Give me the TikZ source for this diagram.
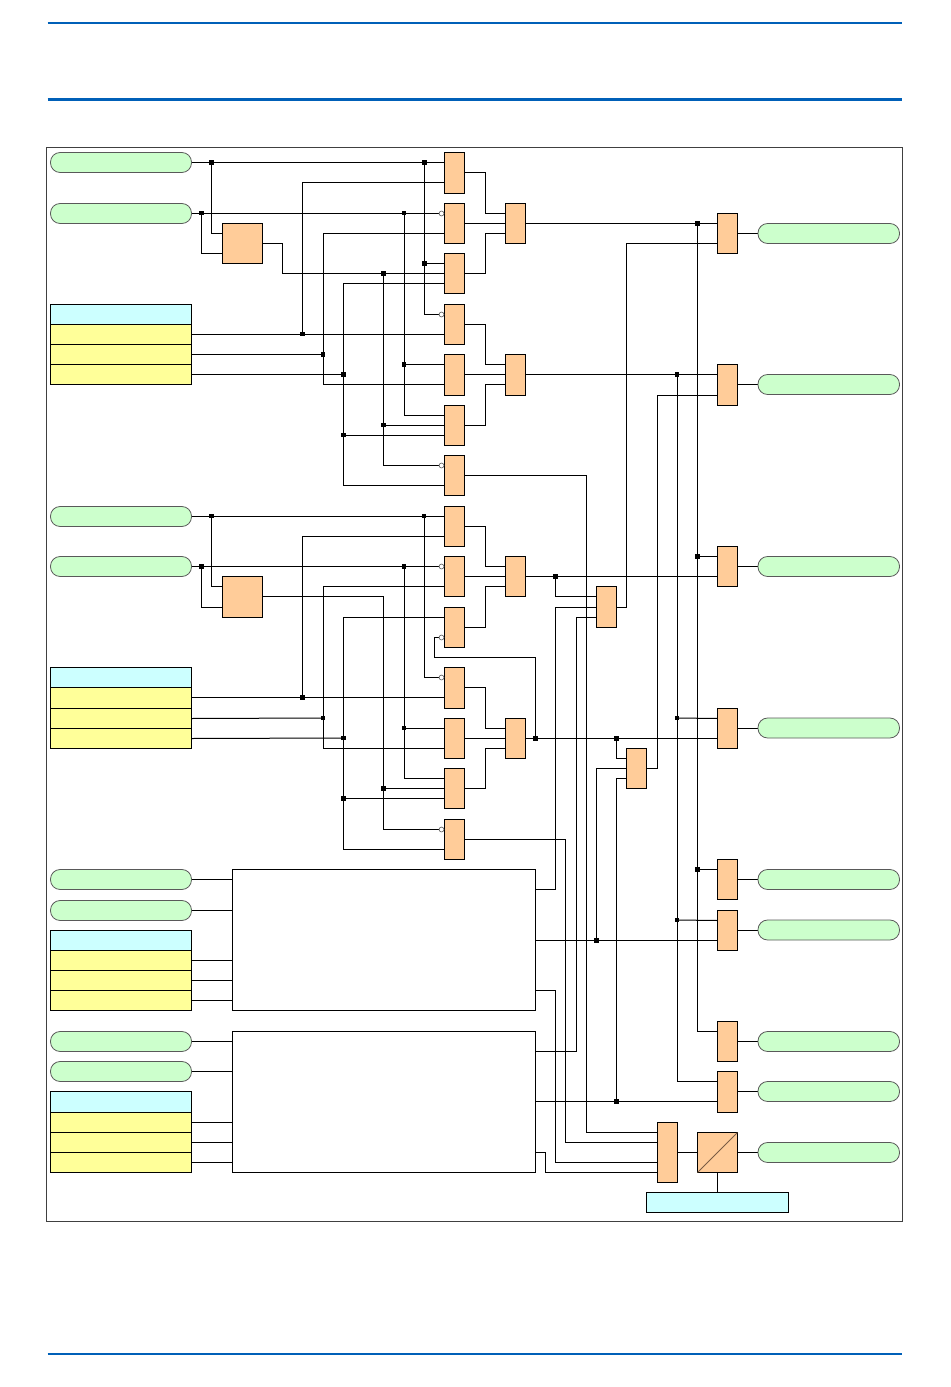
\documentclass[tikz,border=0pt]{standalone}
\usetikzlibrary{backgrounds}
\definecolor{rule}{HTML}{0060B8}
\definecolor{gateor}{HTML}{FFCC99}
\definecolor{pillg}{HTML}{CCFFCC}
\definecolor{tabh}{HTML}{CCFFFF}
\definecolor{taby}{HTML}{FFFF99}
\definecolor{diag}{HTML}{7A5C44}
\tikzset{
  boxb/.style={draw=black,line width=0.75pt,inner sep=0pt,outer sep=0pt},
  gate/.style={boxb,fill=gateor},
  thead/.style={boxb,fill=tabh},
  trow/.style={boxb,fill=taby},
  blk/.style={boxb,fill=white},
  pillb/.style={draw=black!65,line width=0.6pt,fill=pillg,rounded corners=7.2pt,inner sep=0pt,outer sep=0pt},
  wire/.style={draw=black,line width=0.75pt},
  jun/.style={fill=black,draw=none,inner sep=0pt,outer sep=0pt,minimum size=3.4pt},
  bub/.style={circle,draw=black!60,fill=white,line width=0.5pt,inner sep=0pt,outer sep=0pt,minimum size=3.7pt},
}
% box by pixel corners
\newcommand{\bx}[6]{%
  \pgfmathsetmacro{\cxv}{(#3+#5)/2}\pgfmathsetmacro{\cyv}{(#4+#6)/2}%
  \pgfmathsetmacro{\wv}{(#5-#3)*0.75}\pgfmathsetmacro{\hv}{(#6-#4)*0.75}%
  \node[#1,minimum width=\wv pt,minimum height=\hv pt] (#2) at (\cxv,\cyv) {};}
\newcommand{\jn}[3]{\node[jun] (#1) at (#2,#3) {};}
\newcommand{\bb}[2]{\node[bub] (#1) at (441.5,#2) {};}
\begin{document}
\begin{tikzpicture}[x=0.75pt,y=-0.75pt]
\useasboundingbox (0,0) rectangle (950,1387);
\coordinate (ra) at (47.5,23); \coordinate (rb) at (902,23);
\coordinate (rc) at (47.5,99.5); \coordinate (rd) at (902,99.5);
\coordinate (re) at (47.5,1354); \coordinate (rf) at (902,1354);
\draw[rule,line width=1.5pt] (ra) -- (rb);
\draw[rule,line width=2.25pt] (rc) -- (rd);
\draw[rule,line width=1.5pt] (re) -- (rf);
\node[draw=black!75,line width=0.75pt,inner sep=0pt,outer sep=0pt,minimum width=642pt,minimum height=805.5pt] (frame) at (474.5,684.5) {};
% left pills
\bx{pillb}{p1}{50.5}{152.5}{191.5}{172.5}
\bx{pillb}{p2}{50.5}{203.5}{191.5}{223.5}
\bx{pillb}{p3}{50.5}{506.5}{191.5}{526.5}
\bx{pillb}{p4}{50.5}{556.5}{191.5}{576.5}
\bx{pillb}{p5}{50.5}{869.5}{191.5}{889.5}
\bx{pillb}{p6}{50.5}{900.5}{191.5}{920.5}
\bx{pillb}{p7}{50.5}{1031.5}{191.5}{1051.5}
\bx{pillb}{p8}{50.5}{1061.5}{191.5}{1081.5}
% right pills
\bx{pillb}{q1}{758}{223.5}{899.5}{243.5}
\bx{pillb}{q2}{758}{374.5}{899.5}{394.5}
\bx{pillb}{q3}{758}{556.5}{899.5}{576.5}
\bx{pillb}{q4}{758}{718}{899.5}{738}
\bx{pillb}{q5}{758}{869.5}{899.5}{889.5}
\bx{pillb}{q6}{758}{920}{899.5}{940}
\bx{pillb}{q7}{758}{1031.5}{899.5}{1051.5}
\bx{pillb}{q8}{758}{1081.5}{899.5}{1101.5}
\bx{pillb}{q9}{758}{1142.5}{899.5}{1162.5}
% tables
\bx{thead}{ta}{50.5}{304.5}{191.5}{324.5}
\bx{trow}{ta1}{50.5}{324.5}{191.5}{344.5}
\bx{trow}{ta2}{50.5}{344.5}{191.5}{364.5}
\bx{trow}{ta3}{50.5}{364.5}{191.5}{384.5}
\bx{thead}{tb}{50.5}{667.5}{191.5}{687.5}
\bx{trow}{tb1}{50.5}{687.5}{191.5}{708.5}
\bx{trow}{tb2}{50.5}{708.5}{191.5}{728.5}
\bx{trow}{tb3}{50.5}{728.5}{191.5}{748.5}
\bx{thead}{tc}{50.5}{930.5}{191.5}{950.5}
\bx{trow}{tc1}{50.5}{950.5}{191.5}{970.5}
\bx{trow}{tc2}{50.5}{970.5}{191.5}{990.5}
\bx{trow}{tc3}{50.5}{990.5}{191.5}{1010.5}
\bx{thead}{td}{50.5}{1091.5}{191.5}{1112.5}
\bx{trow}{td1}{50.5}{1112.5}{191.5}{1132.5}
\bx{trow}{td2}{50.5}{1132.5}{191.5}{1152.5}
\bx{trow}{td3}{50.5}{1152.5}{191.5}{1172.5}
% squares
\bx{gate}{s1}{222.5}{223.5}{262.5}{263.5}
\bx{gate}{s2}{222.5}{576.5}{262.5}{617.5}
% first gate column
\bx{gate}{g1}{444.5}{152.5}{464.5}{193.5}
\bx{gate}{g2}{444.5}{203.5}{464.5}{243.5}
\bx{gate}{g3}{444.5}{253.5}{464.5}{293.5}
\bx{gate}{g4}{444.5}{304.5}{464.5}{344.5}
\bx{gate}{g5}{444.5}{354.5}{464.5}{395.5}
\bx{gate}{g6}{444.5}{405.5}{464.5}{445.5}
\bx{gate}{g7}{444.5}{455.5}{464.5}{495.5}
\bx{gate}{g8}{444.5}{506.5}{464.5}{546.5}
\bx{gate}{g9}{444.5}{556.5}{464.5}{596.5}
\bx{gate}{g10}{444.5}{607.5}{464.5}{647.5}
\bx{gate}{g11}{444.5}{667.5}{464.5}{708.5}
\bx{gate}{g12}{444.5}{718.5}{464.5}{758.5}
\bx{gate}{g13}{444.5}{768.5}{464.5}{808.5}
\bx{gate}{g14}{444.5}{819.5}{464.5}{859.5}
% second column
\bx{gate}{m1}{505.5}{203.5}{525.5}{243.5}
\bx{gate}{m2}{505.5}{354.5}{525.5}{395.5}
\bx{gate}{m3}{505.5}{556.5}{525.5}{596.5}
\bx{gate}{m4}{505.5}{718.5}{525.5}{758.5}
\bx{gate}{h1}{596.5}{586.5}{616.5}{627.5}
\bx{gate}{h2}{626.5}{748.5}{646.5}{788.5}
% right gates
\bx{gate}{r1}{717.5}{213.5}{737.5}{253.5}
\bx{gate}{r2}{717.5}{364.5}{737.5}{405.5}
\bx{gate}{r3}{717.5}{546.5}{737.5}{586.5}
\bx{gate}{r4}{717.5}{708.5}{737.5}{748.5}
\bx{gate}{r5}{717.5}{859.5}{737.5}{899.5}
\bx{gate}{r6}{717.5}{910.5}{737.5}{950.5}
\bx{gate}{r7}{717.5}{1021.5}{737.5}{1061.5}
\bx{gate}{r8}{717.5}{1071.5}{737.5}{1112.5}
% big blocks
\bx{blk}{b1}{232.5}{869.5}{535.5}{1010.5}
\bx{blk}{b2}{232.5}{1031.5}{535.5}{1172.5}
% final stage
\bx{gate}{f}{657.5}{1122.5}{677.5}{1182.5}
\bx{gate}{c}{697.5}{1132.5}{737.5}{1172.5}
\draw[diag,line width=0.75pt] (c.south west) -- (c.north east);
\bx{thead}{u}{646.5}{1192.5}{788.5}{1212.5}
% inversion bubbles
\bb{n2}{213.5}\bb{n4}{314.5}\bb{n7}{465.5}
\bb{n9}{566.5}\bb{n10}{637.5}\bb{n11}{677.5}\bb{n14}{829.5}
% junctions
\jn{j1}{211.5}{162.5}\jn{j2}{424.5}{162.5}
\jn{j3}{201.5}{213.2}\jn{j4}{404}{213.2}
\jn{j5}{424.5}{263.5}\jn{j6}{383.5}{273.5}
\jn{j7}{302.5}{334.2}\jn{j8}{323}{354.5}\jn{j9}{343.5}{374.5}
\jn{j10}{404}{364.5}\jn{j11}{383.5}{425.2}\jn{j12}{343.5}{435.2}
\jn{j13}{211.5}{516}\jn{j14}{424}{516}
\jn{j15}{201.5}{566.3}\jn{j16}{404}{566.3}
\jn{j17}{302.5}{697.5}\jn{j18}{323}{718}\jn{j19}{343.5}{738}
\jn{j20}{404}{728}\jn{j21}{383.5}{788.5}\jn{j22}{343.5}{798.5}
\jn{j23}{697.5}{223.5}\jn{j24}{697.5}{556.5}\jn{j25}{697.5}{869.5}
\jn{j26}{677}{374.5}\jn{j27}{677}{718}\jn{j28}{677}{920}
\jn{j29}{555.5}{576.3}\jn{j30}{535.5}{738.3}\jn{j31}{616.5}{738.3}
\jn{j32}{596.5}{940.3}\jn{j33}{616.5}{1101.3}
\begin{pgfonlayer}{background}
\fill[white] (0,0) rectangle (950,1387);
% group 1 inputs
\draw[wire] (p1.east) -- (g1.west |- p1.east);
\draw[wire] (j1.center) |- (s1.west |- 0,233.5);
\draw[wire] (p2.east) -- (n2.west);
\draw[wire] (j3.center) |- (s1.west |- 0,253.5);
\draw[wire] (s1.east |- 0,243.5) -- (282.5,243.5) -- (282.5,273.5) -- (g3.west |- 0,273.5);
\draw[wire] (j6.center) |- (n7.west);
\draw[wire] (j11.center) -- (g6.west |- j11.center);
\draw[wire] (ta1.east) -- (g4.west |- ta1.east);
\draw[wire] (j7.center) |- (g1.west |- 0,182.5);
\draw[wire] (ta2.east) -- (j8.center);
\draw[wire] (g2.west |- 0,233.5) -| (323.5,384.5) -- (g5.west |- 0,384.5);
\draw[wire] (ta3.east) -- (j9.center);
\draw[wire] (g3.west |- 0,283.5) -| (343.5,485.5) -- (g7.west |- 0,485.5);
\draw[wire] (j12.center) -- (g6.west |- j12.center);
\draw[wire] (j2.center) |- (n4.west);
\draw[wire] (j5.center) -- (g3.west |- j5.center);
\draw[wire] (404.5,213.5) |- (g6.west |- 0,415.5);
\draw[wire] (j10.center) -- (g5.west |- j10.center);
% group 1 outputs
\draw[wire] (g1.east |- 0,172.5) -- (485.5,172.5) -- (485.5,213.5) -- (m1.west |- 0,213.5);
\draw[wire] (g2.east |- 0,223.5) -- (m1.west |- 0,223.5);
\draw[wire] (g3.east |- 0,273.5) -- (485.5,273.5) -- (485.5,233.5) -- (m1.west |- 0,233.5);
\draw[wire] (g4.east |- 0,324.5) -- (485.5,324.5) -- (485.5,364.5) -- (m2.west |- 0,364.5);
\draw[wire] (g5.east |- 0,374.5) -- (m2.west |- 0,374.5);
\draw[wire] (g6.east |- 0,425.5) -- (485.5,425.5) -- (485.5,384.5) -- (m2.west |- 0,384.5);
\draw[wire] (g7.east |- 0,475.5) -- (586.5,475.5) -- (586.5,1132.5) -- (f.west |- 0,1132.5);
% group 2 inputs
\draw[wire] (p3.east) -- (g8.west |- p3.east);
\draw[wire] (j13.center) |- (s2.west |- 0,586.5);
\draw[wire] (p4.east) -- (n9.west);
\draw[wire] (j15.center) |- (s2.west |- 0,607.5);
\draw[wire] (s2.east |- 0,596.5) -- (383.5,596.5) -- (383.5,829.5) -- (n14.west);
\draw[wire] (j21.center) -- (g13.west |- j21.center);
\draw[wire] (tb1.east |- 0,697.5) -- (g11.west |- 0,697.5);
\draw[wire] (j17.center) |- (g8.west |- 0,536.5);
\draw[wire] (tb2.east |- 0,718.5) -- (j18.center);
\draw[wire] (g9.west |- 0,586.5) -| (323.5,748.5) -- (g12.west |- 0,748.5);
\draw[wire] (tb3.east) -- (j19.center);
\draw[wire] (g10.west |- 0,617.5) -| (343.5,849.5) -- (g14.west |- 0,849.5);
\draw[wire] (j22.center) -- (g13.west |- j22.center);
\draw[wire] (j14.center) |- (n11.west);
\draw[wire] (404.5,566.5) |- (g13.west |- 0,778.5);
\draw[wire] (j20.center) -- (g12.west |- j20.center);
% group 2 outputs
\draw[wire] (g8.east |- 0,526.5) -- (485.5,526.5) -- (485.5,566.5) -- (m3.west |- 0,566.5);
\draw[wire] (g9.east |- 0,576.5) -- (m3.west |- 0,576.5);
\draw[wire] (g10.east |- 0,627.5) -- (485.5,627.5) -- (485.5,586.5) -- (m3.west |- 0,586.5);
\draw[wire] (g11.east |- 0,687.5) -- (485.5,687.5) -- (485.5,728.5) -- (m4.west |- 0,728.5);
\draw[wire] (g12.east |- 0,738.5) -- (m4.west |- 0,738.5);
\draw[wire] (g13.east |- 0,788.5) -- (485.5,788.5) -- (485.5,748.5) -- (m4.west |- 0,748.5);
\draw[wire] (g14.east |- 0,839.5) -- (565.5,839.5) -- (565.5,1142.5) -- (f.west |- 0,1142.5);
% middle to right
\draw[wire] (m1.east) -- (r1.west |- 0,223.5);
\draw[wire] (697.5,223.5) |- (r7.west |- 0,1031.5);
\draw[wire] (j24.center) -- (r3.west |- j24.center);
\draw[wire] (j25.center) -- (r5.west |- j25.center);
\draw[wire] (h1.east |- 0,607.5) -- (626.5,607.5) -- (626.5,243.5) -- (r1.west |- 0,243.5);
\draw[wire] (m2.east |- 0,374.5) -- (r2.west |- 0,374.5);
\draw[wire] (677.5,374.5) |- (r8.west |- 0,1081.5);
\draw[wire] (j27.center) -- (r4.west |- 0,718.5);
\draw[wire] (j28.center) -- (r6.west |- 0,920.5);
\draw[wire] (h2.east |- 0,768.5) -- (657.5,768.5) -- (657.5,395.5) -- (r2.west |- 0,395.5);
\draw[wire] (m3.east) -- (r3.west |- 0,576.5);
\draw[wire] (555.5,576.5) |- (h1.west |- 0,596.5);
\draw[wire] (b1.east |- 0,889.5) -- (555.5,889.5) -- (555.5,607.5) -- (h1.west |- 0,607.5);
\draw[wire] (b2.east |- 0,1051.5) -- (576.5,1051.5) -- (576.5,617.5) -- (h1.west |- 0,617.5);
\draw[wire] (b1.east |- 0,940.5) -- (r6.west |- 0,940.5);
\draw[wire] (596.5,940.5) |- (h2.west |- 0,768.5);
\draw[wire] (b2.east |- 0,1101.5) -- (r8.west |- 0,1101.5);
\draw[wire] (616.5,1101.5) |- (h2.west |- 0,778.5);
\draw[wire] (m4.east |- 0,738.5) -- (r4.west |- 0,738.5);
\draw[wire] (616.5,738.5) |- (h2.west |- 0,758.5);
\draw[wire] (535.5,738.5) -- (535.5,657.5) -- (434.5,657.5) -- (434.5,637.5) -- (n10.west);
\draw[wire] (b1.east |- 0,990.5) -- (555.5,990.5) -- (555.5,1162.5) -- (f.west |- 0,1162.5);
\draw[wire] (b2.east |- 0,1152.5) -- (545.5,1152.5) -- (545.5,1172.5) -- (f.west |- 0,1172.5);
\draw[wire] (f.east |- c.west) -- (c.west);
\draw[wire] (c.south) -- (u.north);
% block inputs
\draw[wire] (p5.east) -- (b1.west |- p5.east);
\draw[wire] (p6.east) -- (b1.west |- p6.east);
\draw[wire] (tc1.east) -- (b1.west |- tc1.east);
\draw[wire] (tc2.east) -- (b1.west |- tc2.east);
\draw[wire] (tc3.east) -- (b1.west |- tc3.east);
\draw[wire] (p7.east) -- (b2.west |- p7.east);
\draw[wire] (p8.east) -- (b2.west |- p8.east);
\draw[wire] (td1.east) -- (b2.west |- td1.east);
\draw[wire] (td2.east) -- (b2.west |- td2.east);
\draw[wire] (td3.east) -- (b2.west |- td3.east);
% outputs to pills
\draw[wire] (r1.east |- q1.west) -- (q1.west);
\draw[wire] (r2.east |- q2.west) -- (q2.west);
\draw[wire] (r3.east |- q3.west) -- (q3.west);
\draw[wire] (r4.east |- q4.west) -- (q4.west);
\draw[wire] (r5.east |- q5.west) -- (q5.west);
\draw[wire] (r6.east |- q6.west) -- (q6.west);
\draw[wire] (r7.east |- q7.west) -- (q7.west);
\draw[wire] (r8.east |- q8.west) -- (q8.west);
\draw[wire] (c.east) -- (q9.west);
\end{pgfonlayer}
\end{tikzpicture}
\end{document}
